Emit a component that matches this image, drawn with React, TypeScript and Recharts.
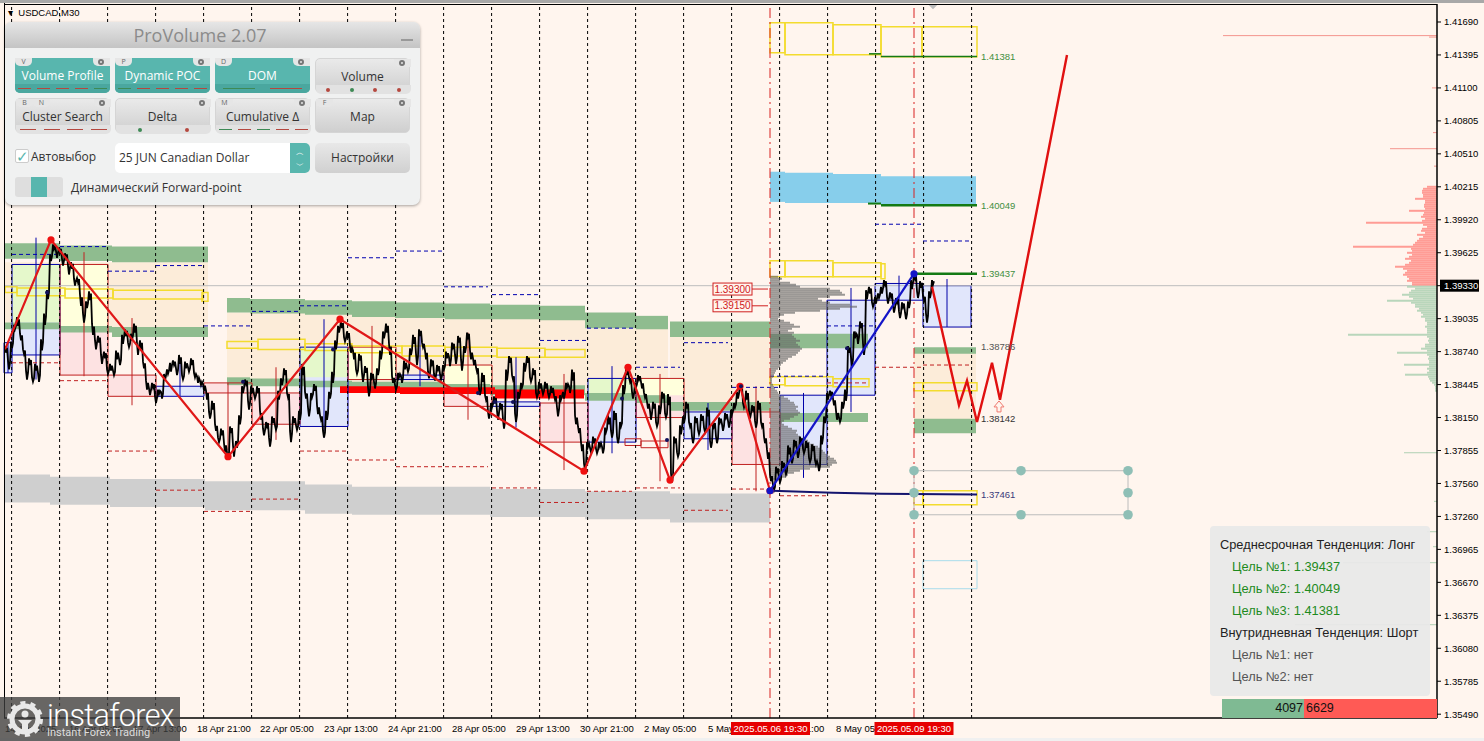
import React from "react";
import { ComposedChart, Line, XAxis, YAxis, ReferenceArea, ReferenceLine, ReferenceDot } from "recharts";

type Row = number[];
const W = 1484, H = 741;
const symbol = "USDCAD,M30";
const currentPrice = 1.3933;
const priceTicks = [1.4169,1.41395,1.411,1.40805,1.4051,1.40215,1.3992,1.39625,1.3933,1.39035,1.3874,1.38445,1.3815,1.37855,1.3756,1.37265,1.3697,1.36675,1.3638,1.36085,1.3579,1.35495];
const priceTickLabels = ["1.41690","1.41395","1.41100","1.40805","1.40510","1.40215","1.39920","1.39625","1.39330","1.39035","1.38740","1.38445","1.38150","1.37855","1.37560","1.37260","1.36965","1.36670","1.36375","1.36080","1.35785","1.35490"];
const timeTicks = [1,65,129,193,256,320,384,448,512,576,640,704,768,832,896];
const timeLabels = ["14 Apr 2025","16 Apr 05:00","17 Apr 13:00","18 Apr 21:00","22 Apr 05:00","23 Apr 13:00","24 Apr 21:00","28 Apr 05:00","29 Apr 13:00","30 Apr 21:00","2 May 05:00","5 May 13:00","6 May 21:00","8 May 05:00","9 May 13:00"];
const markerTicks = [766.5, 910];
const markerLabels = ["2025.05.06 19:30", "2025.05.09 19:30"];
const dayLines = [7.6,55.6,103.6,151.6,199.6,247.6,295.6,343.6,391.6,439.6,487.6,535.6,583.6,631.6,679.6,727.6,775.6,823.6,871.6,919.6,967.6];

// close sampled every 3 M30 bars, first at bar 1
const closes = [
1.3876,1.3862,1.3880,1.3896,1.3901,1.3887,1.3874,1.3853,1.3865,1.3849,1.3860,1.3851,1.3880,1.3903,1.3925,1.3958,1.3968,1.3961,1.3965,
1.3954,1.3960,1.3947,1.3951,1.3936,1.3938,1.3920,1.3904,1.3916,1.3924,1.3894,1.3880,1.3885,1.3867,1.3871,1.3856,
1.3860,1.3855,1.3871,1.3865,1.3885,1.3891,1.3880,1.3887,1.3895,1.3876,1.3880,1.3862,1.3844,1.3838,1.3844,1.3831,
1.3838,1.3835,1.3851,1.3856,1.3860,1.3864,1.3856,1.3867,1.3851,1.3862,1.3858,1.3865,1.3853,1.3849,1.3846,1.3842,
1.3835,1.3817,1.3826,1.3806,1.3795,1.3802,1.3788,1.3782,1.3804,1.3785,1.3791,1.3813,1.3840,1.3847,1.3826,1.3840,
1.3834,1.3840,1.3817,1.3802,1.3809,1.3793,1.3813,1.3806,1.3835,1.3847,1.3856,1.3835,1.3798,1.3813,1.3806,1.3817,
1.3858,1.3835,1.3820,1.3835,1.3842,1.3822,1.3815,1.3800,1.3817,1.3835,1.3851,1.3880,1.3894,1.3898,1.3885,1.3889,
1.3876,1.3871,1.3856,1.3869,1.3851,1.3858,1.3838,1.3853,1.3844,1.3856,1.3871,1.3889,1.3895,1.3876,1.3849,1.3842,
1.3853,1.3849,1.3862,1.3858,1.3874,1.3885,1.3867,1.3891,1.3880,1.3871,1.3853,1.3865,1.3851,1.3860,1.3851,1.3860,
1.3871,1.3865,1.3880,1.3867,1.3885,1.3862,1.3876,1.3889,1.3871,1.3865,1.3858,1.3838,1.3851,1.3833,1.3817,1.3826,
1.3831,1.3817,1.3826,1.3809,1.3853,1.3867,1.3851,1.3815,1.3835,1.3844,1.3860,1.3867,1.3849,1.3856,1.3835,1.3844,
1.3838,1.3844,1.3835,1.3840,1.3833,1.3820,1.3833,1.3835,1.3844,1.3840,1.3853,1.3813,1.3804,1.3789,1.3771,1.3791,
1.3786,1.3795,1.3785,1.3791,1.3786,1.3804,1.3813,1.3800,1.3817,1.3795,1.3809,1.3840,1.3856,1.3849,1.3835,1.3844,
1.3851,1.3844,1.3835,1.3826,1.3817,1.3826,1.3809,1.3822,1.3835,1.3817,1.3831,1.3761,1.3795,1.3782,1.3804,1.3813,
1.3826,1.3809,1.3795,1.3813,1.3802,1.3815,1.3804,1.3820,1.3791,1.3809,1.3795,1.3813,1.3806,1.3817,1.3809,1.3820,
1.3826,1.3835,1.3842,1.3826,1.3835,1.3817,1.3824,1.3809,1.3826,1.3809,1.3795,1.3782,1.3761,1.3752,1.3768,1.3759,
1.3773,1.3766,1.3786,1.3777,1.3793,1.3782,1.3795,1.3785,1.3791,1.3777,1.3788,1.3775,1.3770,1.3795,1.3813,1.3834,
1.3837,1.3829,1.3817,1.3813,1.3826,1.3835,1.3876,1.3865,1.3889,1.3885,1.3898,1.3876,1.3925,1.3929,1.3916,1.3920,
1.3924,1.3929,1.3936,1.3920,1.3925,1.3912,1.3920,1.3907,1.3916,1.3906,1.3916,1.3934,1.3941,1.3925,1.3934,1.3922,1.3904,1.3925,1.3936,
];
// half-range of the bars around each sampled close, in 0.0001 price units
const halfRanges = [
3,4,3,2,4,3,2,4,3,2,3,4,5,5,4,3,2,3,2,
3,2,4,3,3,2,5,4,3,4,5,4,3,4,3,2,
3,2,4,3,4,3,2,3,4,5,4,3,4,3,2,3,
2,3,3,2,4,2,3,4,2,3,2,3,2,3,2,3,
4,3,4,3,2,3,4,2,3,5,3,4,3,2,4,3,
2,3,4,3,2,4,3,2,4,3,3,2,5,3,2,4,
5,3,4,2,3,4,2,3,4,3,5,4,3,3,2,3,
3,4,2,3,4,3,4,2,3,3,4,3,4,5,3,2,
2,3,4,2,3,4,5,3,2,4,3,2,3,2,3,2,
3,4,2,4,3,5,3,2,4,3,2,3,4,2,3,2,
3,4,2,4,5,3,2,4,3,2,4,3,2,3,2,3,
2,3,2,3,2,4,2,3,2,3,5,4,3,4,3,2,
2,3,2,2,3,2,4,3,4,3,2,4,3,2,3,2,
2,3,2,3,4,3,2,4,3,2,5,4,3,2,4,3,
3,2,3,3,2,3,2,4,3,2,3,2,3,2,3,2,
2,3,3,2,4,3,2,3,4,2,3,4,3,2,3,2,
3,2,4,3,2,3,3,2,3,2,3,2,3,4,3,3,
2,3,4,2,3,5,3,4,3,4,3,5,4,3,2,3,
2,3,2,3,2,3,2,3,2,3,3,4,2,3,3,2,4,3,2,
];
const redPivotBars = [1,47,224,336,580,624,666,736,766];
const redPivotPrices = [1.3876,1.3974,1.3780,1.3903,1.3767,1.3860,1.3759,1.3843,1.37495];
const bluePivotBars = [766,910];
const bluePivotPrices = [1.37495,1.39437];
const forecastBars = [928,955,963,973,988,996,1063];
const forecastPrices = [1.3932,1.3826,1.3848,1.3811,1.3864,1.3831,1.41395];
const navyBars = [768,829,877,973];
const navyPrices = [1.37495,1.37477,1.37468,1.37461];

const orangeZones: Row[] = [[1,204,1.3954,1.3895],[223,391,1.3909,1.3845],[391,581,1.3904,1.3838],[581,664,1.3895,1.3832],[666,766,1.3888,1.3825],[910,972,1.3876,1.3811]];
const greenZones: Row[] = [[1,56,1.3971,1.3957],[56,108,1.3969,1.3955],[108,204,1.3968,1.3954],[223,246,1.3922,1.3909],[246,301,1.3921,1.3908],[301,348,1.3920,1.3907],[348,391,1.3919,1.3905],[391,441,1.3918,1.3904],[441,486,1.3917,1.3903],[486,536,1.3916,1.3903],[536,581,1.3915,1.3902],[581,632,1.3909,1.3895],[632,664,1.3906,1.3894],[666,766,1.3901,1.3887],
[1,56,1.3900,1.3894],[56,108,1.3897,1.3891],[108,204,1.3896,1.3887],[223,246,1.3851,1.3844],[246,301,1.3850,1.3843],[301,348,1.3848,1.3842],[348,441,1.3847,1.3839],[441,486,1.3845,1.3838],[486,581,1.3844,1.3835],[581,632,1.3837,1.3830],[632,664,1.3835,1.3828],[666,766,1.3829,1.3821],
[766,864,1.3890,1.3877],[776,864,1.3819,1.3811],[910,972,1.3878,1.3872],[910,972,1.3814,1.3801]];
const greyZones: Row[] = [[1,46,1.3764,1.3739],[46,106,1.3762,1.3737],[106,201,1.3760,1.3735],[201,301,1.3758,1.3732],[301,348,1.3755,1.3729],[348,486,1.3753,1.3728],[486,581,1.3751,1.3726],[581,666,1.3749,1.3724],[666,766,1.3747,1.3721]];
const skyZones: Row[] = [[766,781,1.4035,1.4008],[781,829,1.4034,1.4007],[829,877,1.4033,1.4007],[877,972,1.4031,1.4005]];
const redBars: Row[] = [[336,396,1.3843,1.3837],[396,491,1.3842,1.3836],[491,580,1.3840,1.3832]];
const yellowBoxes: Row[] = [[1,13,1.3932,1.3927],[13,61,1.3931,1.3924],[61,109,1.3930,1.3922],[109,199,1.3929,1.3921],[198,204,1.3927,1.3919],
[223,254,1.3883,1.3877],[254,301,1.3885,1.3876],[301,348,1.3881,1.3875],[348,398,1.3879,1.3873],[398,441,1.3879,1.3870],[441,493,1.3878,1.3870],[493,541,1.3877,1.3869],[541,581,1.3876,1.3869],
[766,781,1.41684,1.41415],[781,829,1.41684,1.41397],[829,877,1.41666,1.41397],[877,918,1.41648,1.4138],[918,973,1.41648,1.4138],
[766,781,1.39554,1.3941],[781,829,1.39554,1.3941],[829,877,1.39536,1.3941],[877,881,1.39527,1.39393],
[766,781,1.38516,1.38444],[781,829,1.38516,1.38435],[829,865,1.38498,1.38426],
[910,919,1.38462,1.3839],[919,973,1.38462,1.3839],[910,919,1.37495,1.3737],[919,973,1.37495,1.3737]];
const pastelBox: Row = [919,973,1.36869,1.36618];
// x1, x2, body top, body bottom, high, low
const upCandles: Row[] = [[0,8,1.3882,1.3855,1.3882,1.3855],[8,56,1.3952,1.3871,1.3976,1.3849],[152,200,1.3843,1.3834,1.3867,1.3834],[296,344,1.3878,1.3807,1.3903,1.3797],[392,440,1.3853,1.3849,1.3891,1.3843],[488,536,1.3829,1.3825,1.3869,1.3806],[584,632,1.3850,1.3793,1.3861,1.3783],[680,728,1.3820,1.3796,1.3828,1.3786],[776,823,1.3835,1.3773,1.3837,1.3761],[823,871,1.3920,1.3835,1.3931,1.3820],[871,919,1.3935,1.3920,1.3942,1.3912],[919,967,1.3933,1.3896,1.3939,1.3896]];
const downCandles: Row[] = [[56,104,1.3952,1.3853,1.3963,1.3852],[104,152,1.3853,1.3834,1.3904,1.3826],[200,248,1.3846,1.3837,1.3846,1.3786],[248,296,1.3837,1.3809,1.3860,1.3795],[344,392,1.3878,1.3849,1.3897,1.3838],[440,488,1.3862,1.3825,1.3891,1.3813],[536,584,1.3828,1.3793,1.3854,1.3768],[632,680,1.3850,1.3815,1.3854,1.3758],[728,776,1.3820,1.3773,1.3843,1.3749]];
const smallRedBoxes: Row[] = [[621,637,1.3796,1.3790],[637,664,1.3794,1.3788]];
const upOverlap: Row[] = [[8,56,1.3952,1.3900],[296,344,1.3878,1.3851],[584,632,1.3850,1.3837]];
const downOverlap: Row[] = [[56,104,1.3952,1.3896],[344,392,1.3878,1.3849],[440,488,1.3862,1.3844],[632,680,1.3850,1.3835]];
const blueLevels: Row[] = [[8,56,1.3961],[56,104,1.3968],[104,152,1.3946],[152,200,1.3951],[200,248,1.3897],[248,296,1.3910],[296,344,1.3915],[344,392,1.3958],[392,440,1.3964],[440,484,1.3932],[488,536,1.3925],[536,583,1.3884],[583,632,1.3895],[632,676,1.3860],[680,724,1.3882],[728,776,1.3842],[766,823,1.3852],[823,871,1.3897],[871,919,1.3988],[919,967,1.3973]];
const redLevels: Row[] = [[8,56,1.3864],[56,104,1.3848],[104,152,1.3785],[152,200,1.3750],[200,248,1.3731],[248,296,1.3742],[296,344,1.3785],[344,392,1.3777],[392,484,1.3771],[488,533,1.3752],[536,580,1.3739],[583,628,1.3749],[632,676,1.3752],[680,724,1.3732],[728,766,1.3751],[776,822,1.3745],[823,864,1.3846],[871,919,1.3860],[919,966,1.3862]];
const greenTargets: Row[] = [[910,973,1.39437,2.5],[864,877,1.40065,2],[877,973,1.40049,2.5],[865,877,1.41405,1.5],[877,973,1.41381,1.5]];
const levelPrices = [1.41381,1.40049,1.39437,1.38786,1.38142,1.37461];
const levelTexts = ["1.41381","1.40049","1.39437","1.38786","1.38142","1.37461"];
const levelColors = ["#3f8f3f","#3f8f3f","#3f8f3f","#555","#333","#3a3a7a"];
const tagPrices = [1.393, 1.3915];
const tagTexts = ["1.39300", "1.39150"];
const pocBars = [43,239,329,474,491,509,618,663,737,843];
const pocPrices = [1.3927,1.3847,1.3876,1.3837,1.3829,1.3829,1.3832,1.3795,1.3843,1.3877];
const fibBars = [910,1017,1124];
const fibPrices = [1.37674,1.37477,1.3728];
const fibDots: Row[] = [[910,1.37674],[1017,1.37674],[1124,1.37674],[910,1.37477],[1124,1.37477],[910,1.3728],[1017,1.3728],[1124,1.3728]];

const profileStart = 1.3941, profileBin = 0.000179;
const profileLengths = [8,12,10,20,26,30,60,70,72,75,60,48,52,60,80,87,70,50,25,14,10,8,14,20,24,30,22,18,24,22,24,26,30,26,28,30,32,30,28,26,22,18,16,13,11,10,8,6,5,4,3,2,2,2,3,4,5,7,8,10,14,18,20,24,25,28,26,28,30,28,24,20,14,12,14,18,22,27,26,28,30,36,38,40,44,48,50,53,55,58,60,64,66,67,62,60,40,30,24,18,16,10];
const askStart = 1.40215;
const askLengths = [10,14,15,15,14,14,22,12,12,13,13,12,28,13,14,16,12,15,71,14,10,15,16,12,20,14,18,20,22,24,84,26,25,30,25,28,32,26,28,32,42,34,30,32,34,30,28,30,25,25];
const bidStart = 1.39321;
const bidLengths = [30,22,26,28,35,28,24,50,26,22,22,18,20,16,14,16,12,12,10,10,12,10,10,10,89,10,8,9,8,12,12,16,10,40,10,8,9,8,8,33,8,10,8,10,32,9,8,7,5,3,2,2,2];
const askSpikes: Row[] = [[1.41568,214],[1.41555,8],[1.40556,47],[1.4110,5],[1.4070,4],[1.4040,3]];
const bidSpikes: Row[] = [[1.37835,33],[1.36851,94],[1.36296,142],[1.37128,10],[1.36994,4],[1.37400,3]];

const trendLines = ["Среднесрочная Тенденция: Лонг","Цель №1: 1.39437","Цель №2: 1.40049","Цель №3: 1.41381","Внутридневная Тенденция: Шорт","Цель №1: нет","Цель №2: нет"];
const trendColors = ["#222","#1d8a1d","#1d8a1d","#1d8a1d","#222","#555","#555"];
const buyVolume = 4097, sellVolume = 6629;
const panelTitle = "ProVolume 2.07";

const closeData = closes.flatMap((price, i) => {
  const s = halfRanges[i] * 0.0001, b = 1 + i * 3;
  return [{ bar: b, price: price + s }, { bar: b + 1, price: price - s }, { bar: b + 2, price: price + s * 0.5 }];
});
const zip = (b: number[], p: number[]) => b.map((bar, i) => ({ bar, price: p[i] }));

const rects = (rows: Row[], key: string, fill: string, stroke = "none", sw = 1) =>
  rows.map((r, i) => (
    <ReferenceArea key={key + i} x1={r[0]} x2={r[1]} y1={r[2]} y2={r[3]} fill={fill} fillOpacity={fill === "none" ? 0 : 1} stroke={stroke} strokeWidth={sw} strokeOpacity={1} />
  ));
const seg = (key: string, x1: number, x2: number, y1: number, y2: number, color: string, sw = 1, dash?: string, op = 1) => (
  <ReferenceLine key={key} segment={[{ x: x1, y: y1 }, { x: x2, y: y2 }]} stroke={color} strokeWidth={sw} strokeDasharray={dash} strokeOpacity={op} />
);
const fontAxis = "'Liberation Sans', Arial, sans-serif";

const PriceTick = (p: any) => {
  const i = priceTicks.indexOf(p.payload.value);
  const active = p.payload.value === currentPrice;
  return (
    <g>
      {active && <rect x={p.x - 3} y={p.y - 6} width={39} height={12} fill="#000" />}
      <text x={p.x + 1} y={p.y + 3.5} fontSize={9.5} fontFamily={fontAxis} fill={active ? "#fff" : "#000"}>{priceTickLabels[i]}</text>
    </g>
  );
};
const TimeTick = (p: any) => {
  const m = markerTicks.indexOf(p.payload.value);
  if (m >= 0) {
    return (
      <g>
        <rect x={p.x - 39.5} y={p.y - 4} width={79} height={13} fill="#e60000" />
        <text x={p.x} y={p.y + 6} textAnchor="middle" fontSize={9.5} fontFamily={fontAxis} fill="#fff">{markerLabels[m]}</text>
      </g>
    );
  }
  const i = timeTicks.indexOf(p.payload.value);
  return <text x={p.x} y={p.y + 6} fontSize={9.5} fontFamily={fontAxis} fill="#000">{timeLabels[i]}</text>;
};
const pivotDot = (color: string, skipFirst: boolean) => (p: any) =>
  skipFirst && p.index === 0 ? <g key={p.index} /> : <circle key={p.index} cx={p.cx} cy={p.cy} r={3.6} fill={color} />;

const btnFont = "'Open Sans', Arial, sans-serif";
const RD = "#b5483f", GR = "#3e8a55";
type Btn = { label: string; tags: string[]; teal?: boolean; strip: string[]; dots?: boolean };
const buttons: Btn[] = [
  { label: "Volume Profile", tags: ["V"], teal: true, strip: [RD, RD, RD, RD, GR] },
  { label: "Dynamic POC", tags: ["P"], teal: true, strip: [GR, RD, RD, RD, RD] },
  { label: "DOM", tags: ["D"], teal: true, strip: [GR, RD] },
  { label: "Volume", tags: [], strip: [RD, GR, RD, RD], dots: true },
  { label: "Cluster Search", tags: ["B", "N"], strip: [RD, RD, RD, RD] },
  { label: "Delta", tags: [], strip: [GR, RD], dots: true },
  { label: "Cumulative Δ", tags: ["M"], strip: [GR, RD, GR, RD, RD] },
  { label: "Map", tags: ["F"], strip: [] },
];
const TEAL = "#58b6ae";
const abs = (left: number, top: number, width: number, height: number): React.CSSProperties => ({ position: "absolute", left, top, width, height, boxSizing: "border-box" });

function PanelButton({ b, i }: { b: Btn; i: number }) {
  const left = 15 + (i % 4) * 100, top = 58 + Math.floor(i / 4) * 40;
  return (
    <div style={{ ...abs(left, top, 95, 35), borderRadius: 5, background: b.teal ? TEAL : "linear-gradient(#eaeaea,#cfcfcf)", border: b.teal ? "none" : "1px solid #d5d5d5", fontFamily: btnFont }}>
      <div style={{ position: "absolute", left: 0, right: 0, top: 10, textAlign: "center", fontSize: 12, color: b.teal ? "#fff" : "#333", lineHeight: "15px" }}>{b.label}</div>
      {b.tags.map((t, k) => (
        <div key={k} style={{ ...abs(k * 17, 0, 17, 8), background: "#e6e6e6", borderRadius: "0 0 5px 5px", fontSize: 7, lineHeight: "8px", textAlign: "center", color: "#666" }}>{t}</div>
      ))}
      <div style={{ ...abs(78, 0, 17, 8), background: "#e6e6e6", borderRadius: "0 0 0 5px" }}>
        <div style={{ ...abs(5, 1, 6, 6), borderRadius: 3, border: "2px solid #777" }} />
      </div>
      {b.strip.length > 0 && (
        <div style={{ ...abs(0, 26, 95, 9), display: "flex", background: b.teal ? "#4aa79f" : "#e2e2e2", borderRadius: "0 0 5px 5px" }}>
          {b.strip.map((c, k) => (
            <div key={k} style={{ flex: 1, display: "flex", alignItems: "center", justifyContent: "center" }}>
              <div style={b.dots ? { width: 4, height: 4, borderRadius: 2, background: c } : { width: "68%", height: 1.5, background: c }} />
            </div>
          ))}
        </div>
      )}
    </div>
  );
}

function ProPanel() {
  return (
    <div style={{ ...abs(5, 22, 415, 183), background: "#f0f1f1", borderRadius: 7, boxShadow: "0 1px 3px rgba(0,0,0,.35)", fontFamily: btnFont, overflow: "hidden" }}>
      <div style={{ ...abs(0, 0, 415, 26), background: "linear-gradient(#e6e6e6,#c4c4c4)", textAlign: "center", color: "#8b8b8b", fontSize: 18, lineHeight: "27px", paddingRight: 25 }}>{panelTitle}</div>
      <div style={{ ...abs(396, 17, 12, 2), background: "#999" }} />
      <div style={{ ...abs(-5, -22, 425, 205) }}>
        {buttons.map((b, i) => <PanelButton key={i} b={b} i={i} />)}
        <div style={{ ...abs(15, 149, 14, 14), background: "#fff", border: "1px solid #ccc", borderRadius: 2, color: TEAL, fontSize: 15, lineHeight: "12px" }}>✓</div>
        <div style={{ position: "absolute", left: 31, top: 149, fontSize: 12, color: "#333", lineHeight: "15px" }}>Автовыбор</div>
        <div style={{ ...abs(115, 143, 195, 30), background: "#fff", borderRadius: 5, fontSize: 12, color: "#333", lineHeight: "30px", paddingLeft: 4, overflow: "hidden" }}>
          25 JUN Canadian Dollar
          <div style={{ ...abs(175, 0, 20, 30), background: TEAL, color: "#fff", fontSize: 8, lineHeight: "13px", textAlign: "center", paddingTop: 2 }}>︿<br />﹀</div>
        </div>
        <div style={{ ...abs(315, 143, 95, 30), background: "linear-gradient(#e8e8e8,#d0d0d0)", borderRadius: 5, textAlign: "center", fontSize: 12, lineHeight: "30px", color: "#333" }}>Настройки</div>
        <div style={{ ...abs(15, 177, 48, 20), background: "#dedede", borderRadius: 3 }}>
          <div style={{ ...abs(16, 0, 16, 20), background: TEAL }} />
        </div>
        <div style={{ position: "absolute", left: 71, top: 180, fontSize: 12, color: "#333", lineHeight: "15px" }}>Динамический Forward-point</div>
      </div>
    </div>
  );
}

function TrendPanel() {
  return (
    <div style={{ ...abs(1210, 526, 220, 170), background: "rgba(232,232,232,.93)", borderRadius: 4, fontFamily: fontAxis, fontSize: 12.8 }}>
      {trendLines.map((t, i) => (
        <div key={i} style={{ position: "absolute", left: trendColors[i] === "#222" ? 10 : 22, top: 10 + i * 22, lineHeight: "18px", color: trendColors[i], whiteSpace: "nowrap" }}>{t}</div>
      ))}
    </div>
  );
}

function VolumeBar() {
  const a = 1222, mid = 1304, b = 1437;
  return (
    <div style={{ fontFamily: fontAxis, fontSize: 12.5, color: "#111", lineHeight: "19px" }}>
      <div style={{ ...abs(a, 699, mid - a, 19), background: "#7fba93", textAlign: "right", paddingRight: 1 }}>{buyVolume}</div>
      <div style={{ ...abs(mid, 699, b - mid, 19), background: "#ff5a55", paddingLeft: 2 }}>{sellVolume}</div>
    </div>
  );
}

function Logo() {
  return (
    <div style={{ ...abs(0, 697, 180, 44), background: "rgba(62,62,62,.78)", color: "#fff", fontFamily: "Roboto, 'Open Sans', sans-serif" }}>
      <svg style={{ position: "absolute", left: 7, top: 4 }} width={36} height={36} viewBox="0 0 36 36">
        <circle cx={18} cy={18} r={13} fill="none" stroke="#e8e8e8" strokeWidth={5} />
        <circle cx={18} cy={18} r={16} fill="none" stroke="#e8e8e8" strokeWidth={4} strokeDasharray="5 5.05" />
        <circle cx={18} cy={13} r={3.5} fill="#e8e8e8" />
        <path d="M11 19 L25 19 L21 23 L21 30 L15 30 L15 23 Z" fill="#e8e8e8" />
      </svg>
      <div style={{ position: "absolute", left: 47, top: 1, fontSize: 30.5, lineHeight: "36px", fontWeight: 300, letterSpacing: -0.6 }}>instaforex</div>
      <div style={{ position: "absolute", left: 47, top: 29, fontSize: 11, lineHeight: "13px", color: "#ddd" }}>Instant Forex Trading</div>
    </div>
  );
}

export default function App() {
  return (
    <div style={{ ...abs(0, 0, W, H), background: "#fff5ee", overflow: "hidden" }}>
      <div style={{ ...abs(0, 0, W, 3), background: "#a8a8a8" }} />
      <div style={{ ...abs(0, 738, W, 3), background: "#f0f0f0" }} />
      <div style={{ position: "absolute", left: 0, top: 0 }}>
        <ComposedChart width={W} height={H} margin={{ top: 4, right: 0, bottom: 0, left: 4 }}>
          <XAxis dataKey="bar" type="number" domain={[0, 1433]} allowDataOverflow ticks={[...timeTicks, ...markerTicks]} interval={0} height={23} tickLine={false} axisLine={{ stroke: "#000", strokeWidth: 1.5 }} tick={<TimeTick />} />
          <YAxis dataKey="price" type="number" orientation="right" domain={[1.35461, 1.41851]} allowDataOverflow ticks={priceTicks} interval={0} width={47} tickSize={4} tickLine={{ stroke: "#000" }} axisLine={{ stroke: "#000", strokeWidth: 1.5 }} tick={<PriceTick />} />

          {dayLines.map((d, i) => <ReferenceLine key={"d" + i} x={d} stroke="#000" strokeWidth={1} strokeDasharray="3 3" />)}
          {rects(orangeZones, "o", "#fcecd9")}
          {rects(upCandles, "uf", "#e1e6fb")}
          {rects(downCandles, "df", "#fde2e2")}
          {rects(upOverlap, "uo", "#e5f8cb")}
          {rects(downOverlap, "do", "#ffffdc")}
          {rects(greyZones, "g", "#cfcfcf")}
          {rects(greenZones, "z", "#8fbc8f")}
          {rects(skyZones, "s", "#87ceeb")}
          {rects(redBars, "r", "#ff0000")}
          {seg("px", 0, 1433, currentPrice, currentPrice, "#bdbdbd", 1)}
          {upCandles.map((c, i) => seg("uw" + i, (c[0] + c[1]) / 2, (c[0] + c[1]) / 2, c[4], c[5], "#0000a8", 1))}
          {downCandles.map((c, i) => seg("dw" + i, (c[0] + c[1]) / 2, (c[0] + c[1]) / 2, c[4], c[5], "#c02020", 1))}
          {rects(upCandles, "us", "none", "#0000a8", 1)}
          {rects(downCandles, "ds", "none", "#c02020", 1)}
          {rects(smallRedBoxes, "sb", "none", "#c02020", 1)}
          {rects(yellowBoxes, "y", "none", "#f3dc2e", 1.5)}
          {rects([pastelBox], "pb", "none", "#a8dcec", 1)}
          {blueLevels.map((l, i) => seg("bl" + i, l[0], l[1], l[2], l[2], "#0000b0", 1, "4 3"))}
          {redLevels.map((l, i) => seg("rl" + i, l[0], l[1], l[2], l[2], "#c02020", 1, "4 3"))}
          {profileLengths.map((len, i) => { const p = profileStart - i * profileBin; return seg("pf" + i, 766, 766 + len, p, p, "#666", 2, undefined, 0.65); })}
          {askLengths.map((len, i) => { const p = askStart - i * profileBin; return seg("ak" + i, 1433 - len, 1433, p, p, "#ff9c95", 2); })}
          {bidLengths.map((len, i) => { const p = bidStart - i * profileBin; return seg("bd" + i, 1433 - len, 1433, p, p, "#b9d6bb", 2); })}
          {askSpikes.map((s, i) => seg("as" + i, 1433 - s[1], 1433, s[0], s[0], "#f4958e", 1))}
          {bidSpikes.map((s, i) => seg("bs" + i, 1433 - s[1], 1433, s[0], s[0], "#b0d0b4", 1))}
          {seg("v1", 766, 766, 1.35461, 1.41851, "#d82020", 1, "10 4 2 4")}
          {seg("v2", 910, 910, 1.35461, 1.41851, "#d82020", 1, "10 4 2 4")}
          {greenTargets.map((g, i) => seg("gt" + i, g[0], g[1], g[2], g[2], "#147a14", g[3]))}
          {fibPrices.filter((_, i) => i !== 1).map((p, i) => seg("fh" + i, fibBars[0], fibBars[2], p, p, "#bcbcbc", 1))}
          {seg("fv1", fibBars[2], fibBars[2], fibPrices[0], fibPrices[2], "#bcbcbc", 1)}
          {seg("fv0", fibBars[0], fibBars[0], fibPrices[0], fibPrices[2], "#bcbcbc", 1)}
          {seg("tg0", 748, 764, tagPrices[0], tagPrices[0], "#d02020", 1)}
          {seg("tg1", 748, 764, tagPrices[1], tagPrices[1], "#d02020", 1)}

          <Line data={closeData} dataKey="price" stroke="#000" strokeWidth={1.8} dot={false} isAnimationActive={false} />
          <Line data={zip(navyBars, navyPrices)} dataKey="price" stroke="#14146e" strokeWidth={2} dot={false} isAnimationActive={false} />
          <Line data={zip(redPivotBars, redPivotPrices)} dataKey="price" stroke="#e01818" strokeWidth={2.2} dot={pivotDot("#f01010", true)} isAnimationActive={false} />
          <Line data={zip(bluePivotBars, bluePivotPrices)} dataKey="price" stroke="#1414c8" strokeWidth={2.2} dot={pivotDot("#1414c8", false)} isAnimationActive={false} />
          <Line data={zip(forecastBars, forecastPrices)} dataKey="price" stroke="#e01010" strokeWidth={2.4} dot={false} isAnimationActive={false} />

          {pocBars.map((b, i) => <ReferenceDot key={"poc" + i} x={b} y={pocPrices[i]} r={2} fill="#10105a" stroke="none" />)}
          {fibDots.map((d, i) => <ReferenceDot key={"fd" + i} x={d[0]} y={d[1]} r={4.8} fill="#8fbfb6" stroke="none" />)}
          {levelPrices.map((p, i) => (
            <ReferenceDot key={"lv" + i} x={977} y={p} r={0} shape={(s: any) => (
              <text x={s.cx} y={s.cy + 3.5} fontSize={9.5} fontFamily={fontAxis} fill={levelColors[i]}>{levelTexts[i]}</text>
            )} />
          ))}
          {tagPrices.map((p, i) => (
            <ReferenceDot key={"tag" + i} x={709} y={p} r={0} shape={(s: any) => (
              <g>
                <rect x={s.cx} y={s.cy - 6} width={39} height={12} fill="#fff5ee" stroke="#d02020" />
                <text x={s.cx + 19.5} y={s.cy + 3.5} textAnchor="middle" fontSize={10} fontFamily={fontAxis} fill="#d02020">{tagTexts[i]}</text>
              </g>
            )} />
          ))}
          <ReferenceDot x={995} y={1.38245} r={0} shape={(s: any) => (
            <path d={`M${s.cx} ${s.cy - 6} L${s.cx + 5} ${s.cy} L${s.cx + 2} ${s.cy} L${s.cx + 2} ${s.cy + 5} L${s.cx - 2} ${s.cy + 5} L${s.cx - 2} ${s.cy} L${s.cx - 5} ${s.cy} Z`} fill="#fff5ee" stroke="#f07a70" />
          )} />
          <ReferenceDot x={929} y={1.4184} r={0} shape={(s: any) => (
            <path d={`M${s.cx - 5} ${s.cy - 1} L${s.cx + 5} ${s.cy - 1} L${s.cx} ${s.cy + 4} Z`} fill="#bbb" />
          )} />
        </ComposedChart>
      </div>
      <div style={{ ...abs(4, 3, 1, 715), background: "#000" }} />
      <div style={{ ...abs(4, 4, 1433, 1), background: "#000" }} />
      <div style={{ position: "absolute", left: 8, top: 6, fontFamily: fontAxis, fontSize: 9.5, lineHeight: "13px", color: "#000", whiteSpace: "pre" }}>▾  {symbol}</div>
      <ProPanel />
      <TrendPanel />
      <VolumeBar />
      <Logo />
    </div>
  );
}
